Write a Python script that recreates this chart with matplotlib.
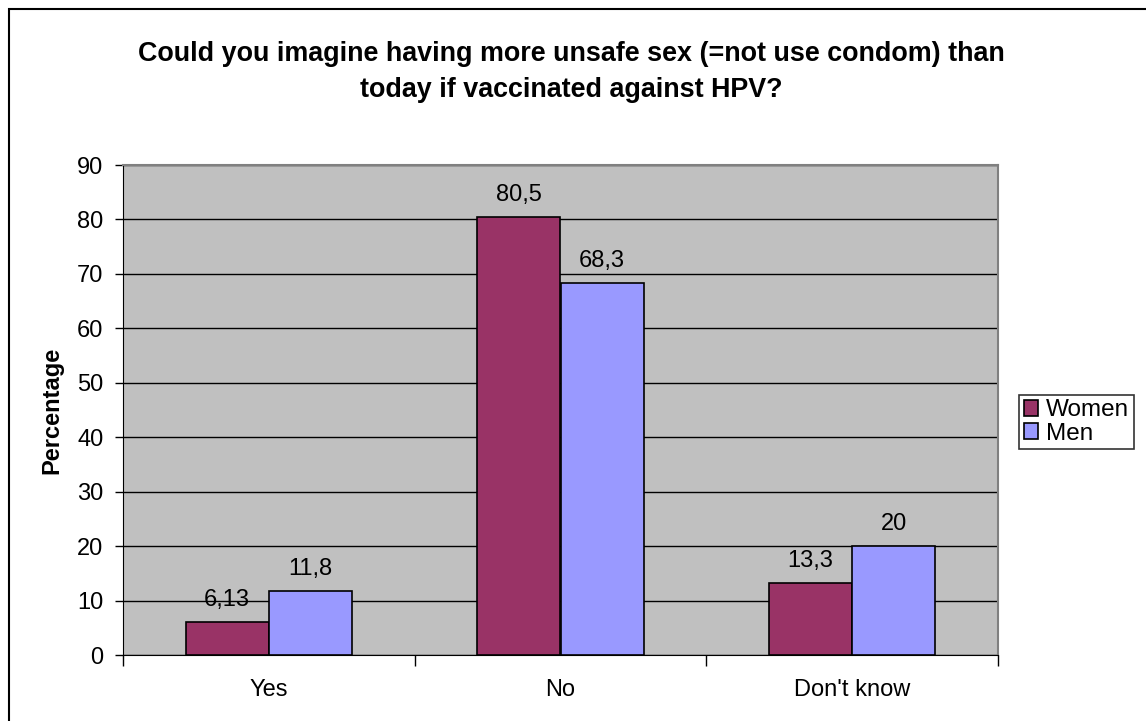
import matplotlib
matplotlib.use("Agg")
import matplotlib.pyplot as plt
from matplotlib.patches import Rectangle
import numpy as np

categories = ["Yes", "No", "Don't know"]
women = [6.13, 80.5, 13.3]
men = [11.8, 68.3, 20]
women_labels = ["6,13", "80,5", "13,3"]
men_labels = ["11,8", "68,3", "20"]
yticks = [0, 10, 20, 30, 40, 50, 60, 70, 80, 90]
title = "Could you imagine having more unsafe sex (=not use condom) than\ntoday if vaccinated against HPV?"

plt.rcParams['font.family'] = ['Liberation Sans', 'DejaVu Sans']

W, H = 1146, 721
fig = plt.figure(figsize=(W / 100, H / 100), dpi=100)
fig.patch.set_facecolor("white")

# outer chart border
fig.add_artist(Rectangle((9 / W, -0.01), 1.1, 1 - 9 / H + 0.01, transform=fig.transFigure,
                         fill=False, edgecolor="black", linewidth=1.5))

ax = fig.add_axes([123 / W, 1 - 655 / H, (998 - 123) / W, (655 - 165) / H])
ax.set_facecolor("#C0C0C0")

FS = 17

x = np.arange(len(categories))
bw = 1 / 3.5
ax.bar(x - bw / 2, women, width=bw, color="#993366", edgecolor="black", linewidth=1.2,
       label="Women", zorder=3)
ax.bar(x + bw / 2, men, width=bw, color="#9999FF", edgecolor="black", linewidth=1.2,
       label="Men", zorder=3)

for xi, v, lab in zip(x - bw / 2, women, women_labels):
    ax.annotate(lab, (xi, v), xytext=(0, 11.5), textcoords="offset points",
                ha="center", va="baseline", fontsize=FS)
for xi, v, lab in zip(x + bw / 2, men, men_labels):
    ax.annotate(lab, (xi, v), xytext=(0, 11.5), textcoords="offset points",
                ha="center", va="baseline", fontsize=FS)

ax.set_xlim(-0.5, len(categories) - 0.5)
ax.set_ylim(0, 90)
ax.set_yticks(yticks)
ax.set_yticklabels([str(t) for t in yticks], fontsize=FS)
ax.yaxis.grid(True, color="black", linewidth=1.0, zorder=1)
ax.set_axisbelow(True)

ax.set_xticks(x)
ax.set_xticklabels(categories, fontsize=FS)
ax.tick_params(axis="x", which="major", length=0, pad=17)
ax.set_xticks(np.arange(len(categories) + 1) - 0.5, minor=True)
ax.tick_params(axis="x", which="minor", length=8, width=1, direction="out")
ax.tick_params(axis="y", length=6, width=1, direction="out", pad=8)

for s in ["top", "right"]:
    ax.spines[s].set_color("#808080")
    ax.spines[s].set_linewidth(1.5)
ax.spines["left"].set_color("black")
ax.spines["bottom"].set_color("black")

ax.set_ylabel("Percentage", fontsize=FS, fontweight="bold", labelpad=10)

fig.text(571 / W, 1 - 72 / H, title, ha="center", va="center", fontsize=19.4,
         fontweight="bold", linespacing=1.5)

leg = fig.legend(loc="center left", bbox_to_anchor=(1019 / W, 1 - 422 / H),
                 fontsize=17.5, frameon=True, fancybox=False, edgecolor="black",
                 handlelength=0.6, handleheight=0.6, handletextpad=0.3,
                 borderpad=0.2, labelspacing=0.05, borderaxespad=0)
leg.get_frame().set_linewidth(1.2)

fig.savefig("out.png", dpi=100)
